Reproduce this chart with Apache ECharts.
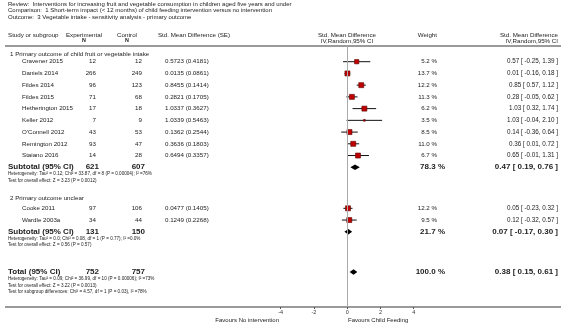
<!DOCTYPE html>
<html>
<head>
    <meta charset="UTF-8">
    <title>Forest plot - vegetable intake</title>
    <script src="https://cdn.jsdelivr.net/npm/echarts@6/dist/echarts.min.js"></script>
</head>
<body style="margin:0;background:#fff;">
<div id="main" style="width:566px;height:332px;"></div>
<script type="text/javascript">
    var titleLines = [
        'Review:  Interventions for increasing fruit and vegetable consumption in children aged five years and under',
        'Comparison:  1 Short-term impact (< 12 months) of child feeding intervention versus no intervention',
        'Outcome:  3 Vegetable intake - sensitivity analysis - primary outcome'
    ];
    var groupNames = ['1 Primary outcome of child fruit or vegetable intake', '2 Primary outcome unclear'];
    var studies = ['Cravener 2015', 'Daniels 2014', 'Fildes 2014', 'Fildes 2015', 'Hetherington 2015', 'Keller 2012',
        "O'Connell 2012", 'Remington 2012', 'Staiano 2016', 'Cooke 2011', 'Wardle 2003a'];
    var studyGroup = [0, 0, 0, 0, 0, 0, 0, 0, 0, 1, 1];
    var expN = [12, 266, 96, 71, 17, 7, 43, 93, 14, 97, 34];
    var ctlN = [12, 249, 123, 68, 18, 9, 53, 47, 28, 106, 44];
    var smd = [0.5723, 0.0135, 0.8455, 0.2821, 1.0337, 1.0339, 0.1362, 0.3636, 0.6494, 0.0477, 0.1249];
    var se = [0.4181, 0.0861, 0.1414, 0.1705, 0.3627, 0.5463, 0.2544, 0.1803, 0.3357, 0.1405, 0.2268];
    var weight = [5.2, 13.7, 12.2, 11.3, 6.2, 3.5, 8.5, 11.0, 6.7, 12.2, 9.5];
    var ciEst = [0.57, 0.01, 0.85, 0.28, 1.03, 1.03, 0.14, 0.36, 0.65, 0.05, 0.12];
    var ciLo = [-0.25, -0.16, 0.57, -0.05, 0.32, -0.04, -0.36, 0.01, -0.01, -0.23, -0.32];
    var ciHi = [1.39, 0.18, 1.12, 0.62, 1.74, 2.10, 0.64, 0.72, 1.31, 0.32, 0.57];

    var subExpN = [621, 131];
    var subCtlN = [607, 150];
    var subWeight = [78.3, 21.7];
    var subEst = [0.47, 0.07];
    var subLo = [0.19, -0.17];
    var subHi = [0.76, 0.30];
    var subNotes = [
        ['Heterogeneity: Tau\u00b2 = 0.12; Chi\u00b2 = 33.87, df = 8 (P = 0.00004); I\u00b2 =76%',
            'Test for overall effect: Z = 3.23 (P = 0.0012)'],
        ['Heterogeneity: Tau\u00b2 = 0.0; Chi\u00b2 = 0.08, df = 1 (P = 0.77); I\u00b2 =0.0%',
            'Test for overall effect: Z = 0.56 (P = 0.57)']
    ];
    var totalN = [752, 757];
    var totalWeight = 100.0;
    var totalCI = [0.38, 0.15, 0.61];
    var totalNotes = [
        'Heterogeneity: Tau\u00b2 = 0.09; Chi\u00b2 = 36.99, df = 10 (P = 0.00006); I\u00b2 =73%',
        'Test for overall effect: Z = 3.22 (P = 0.0013)',
        'Test for subgroup differences: Chi\u00b2 = 4.57, df = 1 (P = 0.03), I\u00b2 =78%'
    ];
    var xTicks = [-4, -2, 0, 2, 4];
    var favours = ['Favours No intervention', 'Favours Child Feeding'];

    // layout (pixels)
    var FONT = '"Liberation Sans", Arial, sans-serif';
    var ROW0 = 61.7, HALF = 5.865, TOPLINE = 46, AXISY = 307;
    var groupStart = [0, 25], groupLift = [7.7, 10.3], totalSlot = 36;
    var COL = {left: 8, group: 10, study: 22, exp: 96, ctl: 142, se: 165, w: 437, wb: 445, ci: 558};

    function slotY(s) { return ROW0 + s * HALF; }
    function f2(v) { return v.toFixed(2); }
    function ciText(e, l, h) { return f2(e) + ' [ ' + f2(l) + ', ' + f2(h) + ' ]'; }

    var studySlot = [], counter = [0, 0];
    studies.forEach(function (s, i) {
        var g = studyGroup[i];
        studySlot.push(groupStart[g] + 2 * counter[g]);
        counter[g]++;
    });
    var subSlot = [groupStart[0] + 2 * counter[0], groupStart[1] + 2 * counter[1]];

    var elements = [];
    function txt(x, y, s, o) {
        o = o || {};
        elements.push({
            type: 'text', x: x, y: y, silent: true,
            style: {
                text: s, fill: o.fill || '#222', fontFamily: FONT,
                fontSize: o.size || 6.2, fontWeight: o.bold ? 'bold' : 'normal',
                align: o.align || 'left', verticalAlign: 'middle'
            }
        });
    }
    function hline(y) {
        elements.push({type: 'line', silent: true, shape: {x1: 5, y1: y, x2: 561, y2: y},
            style: {stroke: '#9a9a9a', lineWidth: 2}});
    }

    titleLines.forEach(function (t, i) { txt(COL.left, 4.5 + i * 6.3, t, {size: 6}); });
    txt(COL.left, 35, 'Study or subgroup');
    txt(84, 35, 'Experimental', {align: 'center'});
    txt(84, 41, 'N', {align: 'center', size: 5.4, bold: true});
    txt(127, 35, 'Control', {align: 'center'});
    txt(127, 41, 'N', {align: 'center', size: 5.4, bold: true});
    txt(194, 35, 'Std. Mean Difference (SE)', {align: 'center'});
    txt(347, 35, 'Std. Mean Difference', {align: 'center'});
    txt(347, 41, 'IV,Random,95% CI', {align: 'center'});
    txt(COL.w, 35, 'Weight', {align: 'right'});
    txt(COL.ci, 35, 'Std. Mean Difference', {align: 'right'});
    txt(COL.ci, 41, 'IV,Random,95% CI', {align: 'right'});
    hline(TOPLINE);

    groupNames.forEach(function (g, k) { txt(COL.group, slotY(groupStart[k]) - groupLift[k], g); });
    studies.forEach(function (s, i) {
        var y = slotY(studySlot[i]);
        txt(COL.study, y, s);
        txt(COL.exp, y, String(expN[i]), {align: 'right'});
        txt(COL.ctl, y, String(ctlN[i]), {align: 'right'});
        txt(COL.se, y, smd[i].toFixed(4) + ' (' + se[i].toFixed(4) + ')');
        txt(COL.w, y, weight[i].toFixed(1) + ' %', {align: 'right'});
        txt(COL.ci, y, ciText(ciEst[i], ciLo[i], ciHi[i]), {align: 'right', size: 6.3});
    });
    [0, 1].forEach(function (k) {
        var y = slotY(subSlot[k]);
        txt(COL.left, y, 'Subtotal (95% CI)', {bold: true, size: 8});
        txt(COL.exp + 3, y, String(subExpN[k]), {bold: true, size: 8, align: 'right'});
        txt(COL.ctl + 3, y, String(subCtlN[k]), {bold: true, size: 8, align: 'right'});
        txt(COL.wb, y, subWeight[k].toFixed(1) + ' %', {bold: true, size: 8, align: 'right'});
        txt(COL.ci, y, ciText(subEst[k], subLo[k], subHi[k]), {bold: true, size: 8, align: 'right'});
        subNotes[k].forEach(function (n, j) { txt(COL.left, y + 6.8 + j * 6.4, n, {size: 4.6}); });
    });
    var ty = slotY(totalSlot) - 0.8;
    txt(COL.left, ty, 'Total (95% CI)', {bold: true, size: 8});
    txt(COL.exp + 3, ty, String(totalN[0]), {bold: true, size: 8, align: 'right'});
    txt(COL.ctl + 3, ty, String(totalN[1]), {bold: true, size: 8, align: 'right'});
    txt(COL.wb, ty, totalWeight.toFixed(1) + ' %', {bold: true, size: 8, align: 'right'});
    txt(COL.ci, ty, ciText(totalCI[0], totalCI[1], totalCI[2]), {bold: true, size: 8, align: 'right'});
    totalNotes.forEach(function (n, j) { txt(COL.left, ty + 6.8 + j * 6.4, n, {size: 4.6}); });
    hline(AXISY);
    txt(279, 320, favours[0], {align: 'right', size: 6});
    txt(348, 320, favours[1], {size: 6});

    var ciData = studies.map(function (s, i) { return [ciLo[i], ciHi[i], studySlot[i]]; });
    var boxData = studies.map(function (s, i) { return [smd[i], studySlot[i], weight[i]]; });
    var diamondData = [
        [subLo[0], subEst[0], subHi[0], subSlot[0]],
        [subLo[1], subEst[1], subHi[1], subSlot[1]],
        [totalCI[1], totalCI[0], totalCI[2], totalSlot - 0.15]
    ];

    var chart = echarts.init(document.getElementById('main'), null, {renderer: 'canvas'});
    chart.setOption({
        animation: false,
        backgroundColor: '#fff',
        grid: {left: 280.7, width: 133, top: TOPLINE, height: AXISY - TOPLINE},
        xAxis: {
            type: 'value', min: -4, max: 4, interval: 2,
            axisLine: {onZero: false, lineStyle: {color: '#9a9a9a', width: 2}},
            axisTick: {length: 2, lineStyle: {color: '#555'}},
            axisLabel: {fontSize: 5.5, color: '#333', margin: 2, fontFamily: FONT,
                customValues: xTicks, formatter: function (v) { return String(v); }},
            splitLine: {show: false}
        },
        yAxis: {
            type: 'value', inverse: true, show: false,
            min: (TOPLINE - ROW0) / HALF, max: (AXISY - ROW0) / HALF
        },
        graphic: {elements: elements},
        series: [{
            type: 'custom',
            data: ciData,
            renderItem: function (params, api) {
                var a = api.coord([api.value(0), api.value(2)]);
                var b = api.coord([api.value(1), api.value(2)]);
                return {type: 'line', shape: {x1: a[0], y1: a[1], x2: b[0], y2: b[1]},
                    style: {stroke: '#111', lineWidth: 1}};
            },
            markLine: {
                silent: true, symbol: 'none', label: {show: false},
                lineStyle: {color: '#aaa', width: 1, type: 'solid'},
                data: [{xAxis: 0}]
            }
        }, {
            type: 'scatter',
            data: boxData,
            symbol: 'rect',
            symbolSize: function (d) { return Math.min(5, 1 + (d[2] - 3) * 1.5); },
            itemStyle: {color: '#c00000', borderColor: '#5a0000', borderWidth: 0.6, opacity: 1}
        }, {
            type: 'custom',
            data: diamondData,
            renderItem: function (params, api) {
                var l = api.coord([api.value(0), api.value(3)]);
                var m = api.coord([api.value(1), api.value(3)]);
                var r = api.coord([api.value(2), api.value(3)]);
                var h = 2.8;
                return {type: 'polygon',
                    shape: {points: [[l[0], l[1]], [m[0], m[1] - h], [r[0], r[1]], [m[0], m[1] + h]]},
                    style: {fill: '#000'}};
            }
        }]
    });
</script>
</body>
</html>
